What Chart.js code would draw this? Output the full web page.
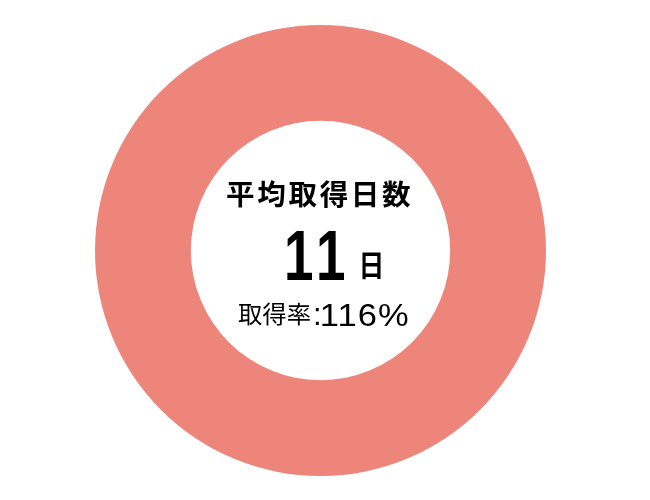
<!DOCTYPE html>
<html><head><meta charset="utf-8">
<script src="https://cdn.jsdelivr.net/npm/chart.js@4"></script>
<style>html,body{margin:0;padding:0;background:#fff}#wrap{width:650px;height:500px}</style>
</head><body>
<div id="wrap"><canvas id="c"></canvas></div>
<script>
const categories = ['平均取得日数'];
const values = [11];
const centerTitle = '平均取得日数';
const centerValue = '11';
const centerUnit = '日';
const rateName = '取得率';
const rateValue = '116%';

// draw text so that its ink box starts at (left) with baseline-bottom at (bottom), optionally stretched to width
function drawInk(ctx, text, font, left, bottom, width, spacing) {
  ctx.save();
  ctx.font = font;
  ctx.letterSpacing = (spacing || 0) + 'px';
  ctx.textAlign = 'left';
  ctx.textBaseline = 'alphabetic';
  const m = ctx.measureText(text);
  const inkW = m.actualBoundingBoxLeft + m.actualBoundingBoxRight - (spacing || 0);
  const sx = width ? width / inkW : 1;
  ctx.translate(left + m.actualBoundingBoxLeft * sx, bottom - m.actualBoundingBoxDescent);
  ctx.scale(sx, 1);
  ctx.fillText(text, 0, 0);
  ctx.restore();
}

const centerText = {
  id: 'centerText',
  afterDraw(chart) {
    const ctx = chart.ctx;
    const meta = chart.getDatasetMeta(0).data[0];
    const cx = meta.x, cy = meta.y;
    ctx.fillStyle = '#000';
    drawInk(ctx, centerTitle, 'bold 28px "Noto Sans CJK JP"', cx - 93.5, cy - 42.5, 181, 2.6);
    [...centerValue].forEach((ch, i) => {
      drawInk(ctx, ch, 'bold 70px "Liberation Sans"', cx - 33.5 + i * 32, cy + 29, 25);
    });
    drawInk(ctx, centerUnit, 'bold 30px "Noto Sans CJK JP"', cx + 41.5, cy + 29.5, 19);
    drawInk(ctx, rateName, '24px "Noto Sans CJK JP"', cx - 82.5, cy + 75, 72);
    drawInk(ctx, ':', '31px "Liberation Sans"', cx - 5.5, cy + 74.5);
    drawInk(ctx, rateValue, '31px "Liberation Sans"', cx + 1.5, cy + 75, 85, 1);
  }
};

new Chart(document.getElementById('c'), {
  type: 'doughnut',
  data: { labels: categories, datasets: [{ data: values, backgroundColor: ['#ED857A'], borderWidth: 0, hoverOffset: 0 }] },
  options: {
    responsive: true, maintainAspectRatio: false, animation: false,
    cutout: '57.5%',
    layout: { padding: { top: 25, bottom: 24, left: 20, right: 29 } },
    plugins: { legend: { display: false }, tooltip: { enabled: false } }
  },
  plugins: [centerText]
});
</script>
</body></html>
